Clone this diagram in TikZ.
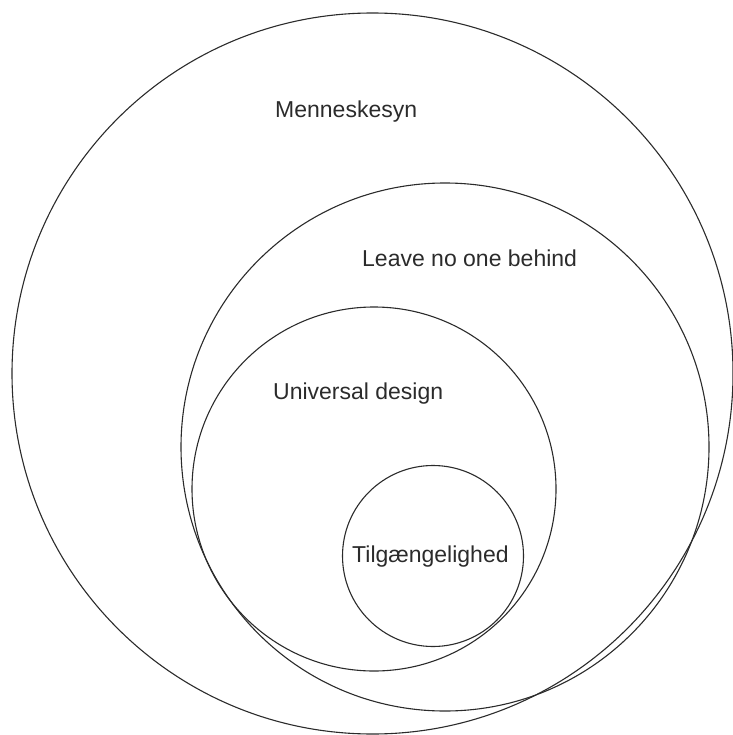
\documentclass[tikz,border=0pt]{standalone}
\usepackage{fontspec}
\setmainfont{Liberation Sans}
\definecolor{ink}{HTML}{2B2B2B}

\begin{document}
\begin{tikzpicture}[x=1pt,y=-1pt,ring/.style={draw=ink,line width=1.1pt,circle,inner sep=0pt},lbl/.style={anchor=base west,inner sep=0pt,text=ink,font=\fontsize{23}{28}\selectfont}]
\useasboundingbox (0,0) rectangle (732,735);
\node[ring,minimum size=721pt] (menneske) at (372.5,373.5) {};
\node[ring,minimum size=528pt] (leave) at (445,447) {};
\node[ring,minimum size=364pt] (universal) at (374,489) {};
\node[ring,minimum size=181pt] (tilg) at (433,556) {};
\node[lbl] (menneskelbl) at (275,118) {Menneskesyn};
\node[lbl] (leavelbl) at (362,266) {Leave no one behind};
\node[lbl] (universallbl) at (273,399) {Universal design};
\node[lbl] (tilglbl) at (352,562) {Tilgængelighed};
\end{tikzpicture}
\end{document}
